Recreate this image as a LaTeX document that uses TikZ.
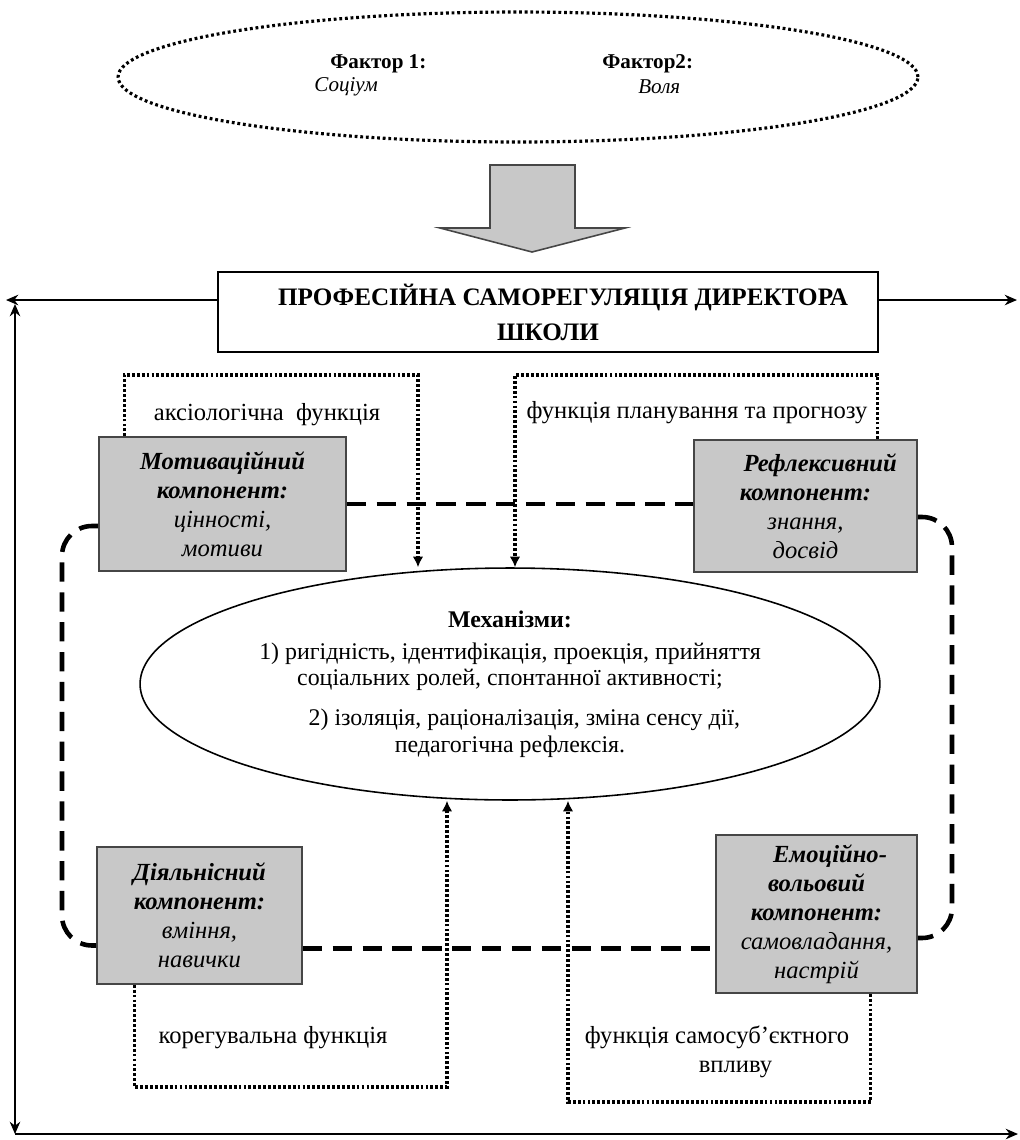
\documentclass[tikz,border=0pt]{standalone}
\usepackage{fontspec}
\setmainfont{Liberation Serif}
\usetikzlibrary{arrows.meta, positioning, shapes.geometric}
\definecolor{boxgray}{RGB}{200,200,200}
\definecolor{edgegray}{RGB}{70,70,70}

\begin{document}
\begin{tikzpicture}[x=0.02cm, y=-0.02cm, >={Stealth[length=7pt, width=6pt]}]

    % Define the styles
    \tikzstyle{comp} = [rectangle, draw=edgegray, fill=boxgray, line width=0.9pt, align=center, inner sep=2pt, font=\fontsize{14}{16.5}\selectfont\itshape]
    \tikzstyle{headbox} = [rectangle, draw, line width=0.9pt, align=center, minimum width=13.2cm, minimum height=1.6cm, font=\fontsize{14.3}{20}\selectfont\bfseries]
    \tikzstyle{fnlabel} = [align=center, inner sep=0pt, font=\fontsize{14}{16.5}\selectfont]
    \tikzstyle{dotline} = [line width=1.8pt, dash pattern=on 1.6pt off 1.2pt, -{Latex[length=6pt, width=6pt]}]
    \tikzstyle{dashline} = [line width=2.6pt, dash pattern=on 11pt off 6pt, rounded corners=0.6cm]
    \tikzstyle{outerline} = [line width=0.9pt]
    \tikzstyle{bigarrow} = [draw=edgegray, fill=boxgray, line width=0.9pt]

    \path [use as bounding box, fill=white] (0,0) rectangle (1020,1140);

    % Nodes
    \node (factors) [ellipse, draw, line width=1.8pt, dash pattern=on 1.6pt off 1.6pt, minimum width=16cm, minimum height=2.6cm] at (518,77) {};
    \node (fac1) [anchor=west, inner sep=0pt, font=\fontsize{12}{14}\selectfont\bfseries] at (330,64) {Фактор 1:};
    \node (soc) [anchor=west, inner sep=0pt, font=\fontsize{12}{14}\selectfont\itshape] at (314,87) {Соціум};
    \node (fac2) [anchor=west, inner sep=0pt, font=\fontsize{12}{14}\selectfont\bfseries] at (602,64) {Фактор2:};
    \node (vol) [anchor=west, inner sep=0pt, font=\fontsize{12}{14}\selectfont\itshape] at (638,87) {Воля};

    \node (title) [headbox] at (548,312) {\hspace{1.2em}ПРОФЕСІЙНА САМОРЕГУЛЯЦІЯ ДИРЕКТОРА\\ШКОЛИ};

    \node (motiv) [comp, minimum width=4.94cm, minimum height=2.68cm] at (222.5,504) {\textbf{Мотиваційний}\\\textbf{компонент:}\\цінності,\\мотиви};
    \node (refl) [comp, minimum width=4.46cm, minimum height=2.64cm] at (805.5,506) {\hspace{1.2em}\textbf{Рефлексивний}\\\textbf{компонент:}\\знання,\\досвід};
    \node (act) [comp, minimum width=4.1cm, minimum height=2.74cm] at (199.5,915.5) {\textbf{Діяльнісний}\\\textbf{компонент:}\\вміння,\\навички};
    \node (emo) [comp, minimum width=4.02cm, minimum height=3.16cm] at (816.5,914) {\hspace{1.1em}\textbf{Емоційно-}\\\textbf{вольовий}\\\textbf{компонент:}\\самовладання,\\настрій};

    \node (mech) [ellipse, draw, line width=0.9pt, minimum width=14.8cm, minimum height=4.64cm, inner sep=0pt, align=center, font=\fontsize{13.6}{15}\selectfont] at (510,684) {\textbf{Механізми:}\\[3pt]1) ригідність, ідентифікація, проекція, прийняття\\соціальних ролей, спонтанної активності;\\[8pt]\hspace{1.2em}2) ізоляція, раціоналізація, зміна сенсу дії,\\педагогічна рефлексія.};

    \node (axlab) [fnlabel] at (267,415) {аксіологічна\ \ функція};
    \node (pllab) [fnlabel] at (697,413) {функція планування та прогнозу};
    \node (korlab) [fnlabel] at (273,1038) {корегувальна функція};
    \node (sslab) [fnlabel] at (717,1052) {функція самосуб’єктного\\\hspace{1.5em}впливу};

    \coordinate (axc) at (418,375);
    \coordinate (plc) at (515,375);
    \coordinate (kc) at (447,1087);
    \coordinate (sc) at (568,1102);
    \coordinate (lloop) at (62,700);
    \coordinate (rloop) at (952,700);
    \coordinate (tl) at (6,300);
    \coordinate (tr) at (1017,300);
    \coordinate (ltop) at (15,304);
    \coordinate (lbot) at (15,1134);
    \coordinate (br) at (1018,1134);

    % Arrows
    \draw [bigarrow] (490,165) -- (575,165) -- (575,228) -- (625,228) -- (532,252) -- (440,228) -- (490,228) -- cycle;

    \draw [outerline, ->] ([yshift=0.24cm]title.west) -- (tl);
    \draw [outerline, ->] ([yshift=0.24cm]title.east) -- (tr);
    \draw [outerline, <->] (ltop) -- (lbot);
    \draw [outerline, ->] (lbot) -- (br);

    \draw [dotline] ([xshift=0.52cm]motiv.north west) |- (axc) -- (axc |- mech.north);
    \draw [dotline] ([xshift=-0.8cm]refl.north east) |- (plc) -- (plc |- mech.north);
    \draw [dotline] ([xshift=0.76cm]act.south west) |- (kc) -- (kc |- mech.south);
    \draw [dotline] ([xshift=-0.94cm]emo.south east) |- (sc) -- (sc |- mech.south);

    % Dashed ring between the components
    \draw [dashline] (motiv.east) -- (motiv.east -| refl.west);
    \draw [dashline] ([yshift=-0.22cm]refl.east) -| (rloop) |- ([yshift=-0.48cm]emo.east);
    \draw [dashline] ([yshift=-0.44cm]motiv.west) -| (lloop) |- ([yshift=-0.6cm]act.west);
    \draw [dashline] ([yshift=-0.66cm]act.east) -- ([yshift=-0.66cm]act.east -| emo.west);

\end{tikzpicture}
\end{document}
